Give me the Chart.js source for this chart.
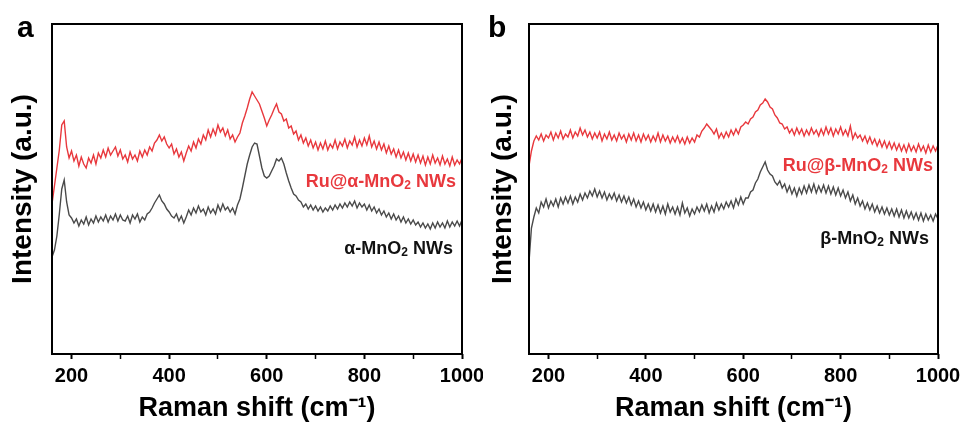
<!DOCTYPE html>
<html>
<head>
<meta charset="utf-8">
<script src="https://cdn.jsdelivr.net/npm/chart.js@4"></script>
<style>
  body { margin: 0; background: #fff; }
  .panel { position: absolute; top: 0; }
</style>
</head>
<body>
<div class="panel" style="left:0"><canvas id="chartA" width="483" height="428"></canvas></div>
<div class="panel" style="left:483px"><canvas id="chartB" width="483" height="428"></canvas></div>
<script>
// Raman shift (cm-1), shared by all four spectra
const shift = [
  160,165,170,175,180,185,190,195,200,205, 210,215,220,225,230,235,240,245,250,255,
  260,265,270,275,280,285,290,295,300,305, 310,315,320,325,330,335,340,345,350,355,
  360,365,370,375,380,385,390,395,400,405, 410,415,420,425,430,435,440,445,450,455,
  460,465,470,475,480,485,490,495,500,505, 510,515,520,525,530,535,540,545,550,555,
  560,565,570,575,580,585,590,595,600,605, 610,615,620,625,630,635,640,645,650,655,
  660,665,670,675,680,685,690,695,700,705, 710,715,720,725,730,735,740,745,750,755,
  760,765,770,775,780,785,790,795,800,805, 810,815,820,825,830,835,840,845,850,855,
  860,865,870,875,880,885,890,895,900,905, 910,915,920,925,930,935,940,945,950,955,
  960,965,970,975,980,985,990,995,1000]

// panel a: Ru@alpha-MnO2 (red) and alpha-MnO2 (grey)
const ruAlpha = [
  150,168,186,204,229,233,207,196,203,193, 199,188,197,190,186,196,191,199,190,201,
  196,204,197,206,199,203,207,198,204,195, 199,192,202,195,199,193,203,197,204,199,
  207,203,211,214,219,213,217,210,206,210, 200,205,197,202,193,201,208,203,212,206,
  215,210,219,214,224,217,225,219,229,222, 226,218,224,215,219,212,217,221,231,238,
  246,255,262,258,254,250,243,236,228,234, 239,245,250,242,240,233,235,226,228,220,
  223,214,219,211,216,208,214,206,212,204, 211,205,213,204,210,206,214,205,212,208,
  215,206,213,209,217,207,214,208,216,209, 218,207,213,205,212,204,210,201,208,200,
  205,197,204,196,202,194,201,193,200,192, 199,191,198,189,197,190,199,191,196,189,
  198,190,195,188,197,189,194,190,196]
const alpha = [
  97,104,118,140,165,174,152,139,136,131, 135,128,134,130,137,129,135,131,138,132,
  137,133,139,132,138,134,140,133,139,134, 133,138,131,139,135,140,132,137,134,140,
  142,146,151,155,159,153,150,145,142,138, 136,140,133,138,131,137,144,139,146,141,
  148,142,145,139,147,141,145,140,149,143, 150,144,147,142,146,140,149,155,166,178,
  190,199,207,211,210,198,186,178,176,178, 183,188,195,193,196,190,181,173,166,160,
  158,154,152,147,150,145,149,144,148,143, 147,142,146,143,148,144,149,145,150,146,
  151,147,152,148,153,146,151,147,150,144, 149,143,147,141,145,139,143,137,141,135,
  140,134,138,132,137,131,135,130,134,129, 132,127,131,126,130,125,131,126,132,127,
  131,126,133,127,132,128,133,128,134]

// panel b: Ru@beta-MnO2 (red) and beta-MnO2 (grey)
const ruBeta = [
  188,203,213,218,214,220,213,219,216,222, 214,221,216,223,215,220,217,224,216,222,
  218,226,219,224,217,222,215,221,216,222, 213,220,215,222,214,219,213,221,215,219,
  212,220,214,221,213,219,212,220,214,219, 212,218,213,221,212,219,213,218,211,217,
  212,218,211,216,210,217,211,216,212,219, 217,223,226,230,227,224,220,225,216,221,
  216,222,217,224,219,225,220,227,229,232, 230,235,237,242,244,249,251,255,252,247,
  245,239,236,231,230,225,227,221,225,219, 226,220,225,218,224,219,226,220,224,218,
  225,219,227,220,226,218,225,220,227,219, 224,218,228,215,221,216,219,213,218,211,
  217,210,215,208,214,207,213,206,212,205, 211,204,210,203,209,202,210,203,208,202,
  210,203,208,201,209,202,208,203,209]
const beta = [
  92,126,137,146,141,152,147,155,146,153, 148,155,147,156,150,157,151,158,150,157,
  152,160,154,161,156,163,158,165,157,163, 156,162,154,160,155,161,153,159,152,158,
  151,157,149,155,147,153,146,152,144,150, 143,150,142,149,141,148,140,150,142,147,
  140,147,139,151,141,146,138,145,140,147, 142,149,143,150,141,148,142,151,144,150,
  145,152,147,153,146,155,149,157,150,156, 156,162,164,171,175,182,187,192,184,180,
  178,172,169,173,166,170,162,168,160,166, 158,166,160,168,161,169,162,170,161,168,
  162,169,161,168,160,167,159,166,158,164, 156,162,153,159,150,156,148,153,145,151,
  144,150,142,148,141,147,140,146,139,145, 138,145,137,144,136,143,136,142,135,141,
  134,141,133,140,134,139,133,140,135]

const tickVals = [200,300,400,500,600,700,800,900,1000]

const RED = '#e8383d'
const GREY = '#4a4a4a'
const FONT = "'Liberation Sans', Arial, sans-serif"

function pairs(ys) {
    return ys.map((y, i) => ({ x: shift[i], y: y }))
}

// frame, sample labels and the panel letter
function overlay(letter, letterX, labels) {
    return {
        id: 'overlay',
        afterDraw(chart) {
            const ctx = chart.ctx
            const a = chart.chartArea
            ctx.save()
            ctx.strokeStyle = '#000'
            ctx.lineWidth = 2
            ctx.strokeRect(a.left, a.top, a.right - a.left, a.bottom - a.top)

            ctx.fillStyle = '#000'
            ctx.font = 'bold 30px ' + FONT
            ctx.textBaseline = 'alphabetic'
            ctx.textAlign = 'left'
            ctx.fillText(letter, letterX, 37)

            labels.forEach(l => {
                ctx.fillStyle = l.color
                ctx.font = 'bold 18px ' + FONT
                const w1 = ctx.measureText(l.pre).width
                const w3 = ctx.measureText(l.post).width
                ctx.font = 'bold 12px ' + FONT
                const w2 = ctx.measureText('2').width
                let x = l.right - (w1 + w2 + w3)
                ctx.font = 'bold 18px ' + FONT
                ctx.fillText(l.pre, x, l.base)
                x += w1
                ctx.font = 'bold 12px ' + FONT
                ctx.fillText('2', x, l.base + 2)
                x += w2
                ctx.font = 'bold 18px ' + FONT
                ctx.fillText(l.post, x, l.base)
            })
            ctx.restore()
        }
    }
}

function makeChart(id, ruData, bareData, yWidth, padRight, titlePad, letter, letterX, labels) {
    const ctx = document.getElementById(id).getContext('2d')
    return new Chart(ctx, {
        type: 'line',
        data: {
            datasets: [{
                data: pairs(ruData),
                borderColor: RED,
                borderWidth: 1.4,
                pointRadius: 0,
                tension: 0
            }, {
                data: pairs(bareData),
                borderColor: GREY,
                borderWidth: 1.4,
                pointRadius: 0,
                tension: 0
            }]
        },
        options: {
            responsive: false,
            animation: false,
            layout: { padding: { left: 0, right: padRight, top: 24, bottom: 0 } },
            plugins: { legend: { display: false }, tooltip: { enabled: false } },
            scales: {
                x: {
                    type: 'linear',
                    min: 160,
                    max: 1000,
                    afterBuildTicks: axis => { axis.ticks = tickVals.map(v => ({ value: v })) },
                    afterFit: axis => { axis.height = 74; axis.paddingLeft = 0; axis.paddingRight = 0 },
                    border: { display: false },
                    grid: {
                        drawOnChartArea: false,
                        drawTicks: true,
                        tickLength: 5,
                        tickColor: '#000',
                        tickWidth: c => (c.tick && c.tick.value % 200 === 0) ? 2 : 1.5
                    },
                    ticks: {
                        padding: 5,
                        color: '#000',
                        font: { family: FONT, size: 20, weight: 'bold' },
                        maxRotation: 0,
                        autoSkip: false,
                        callback: v => v % 200 === 0 ? String(v) : ''
                    },
                    title: {
                        display: true,
                        text: 'Raman shift (cm\u207B\u00B9)',
                        color: '#000',
                        font: { family: FONT, size: 27, weight: 'bold' },
                        padding: { top: 0, bottom: 3 }
                    }
                },
                y: {
                    min: 0,
                    max: 330,
                    afterFit: axis => { axis.width = yWidth },
                    border: { display: false },
                    grid: { display: false },
                    ticks: { display: false },
                    title: {
                        display: true,
                        text: 'Intensity (a.u.)',
                        color: '#000',
                        font: { family: FONT, size: 28, weight: 'bold' },
                        padding: { top: titlePad, bottom: 0 }
                    }
                }
            }
        },
        plugins: [overlay(letter, letterX, labels)]
    })
}

makeChart('chartA', ruAlpha, alpha, 52, 21, 6, 'a', 17, [
    { pre: 'Ru@\u03B1-MnO', post: ' NWs', color: RED, right: 456, base: 187 },
    { pre: '\u03B1-MnO', post: ' NWs', color: '#111', right: 453, base: 254 }
])
makeChart('chartB', ruBeta, beta, 46, 28, 3, 'b', 5, [
    { pre: 'Ru@\u03B2-MnO', post: ' NWs', color: RED, right: 933 - 483, base: 171 },
    { pre: '\u03B2-MnO', post: ' NWs', color: '#111', right: 929 - 483, base: 244 }
])
</script>
</body>
</html>
